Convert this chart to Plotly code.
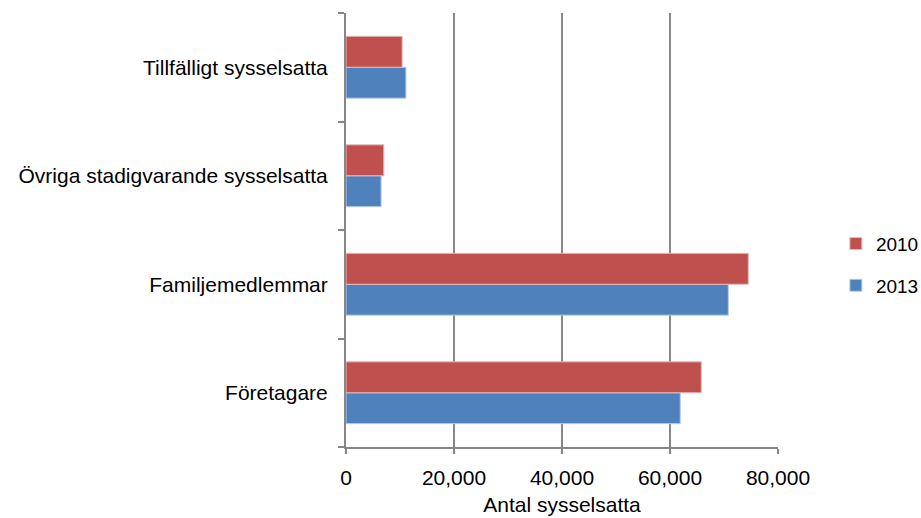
import plotly.graph_objects as go

categories = ["Företagare", "Familjemedlemmar", "Övriga stadigvarande sysselsatta", "Tillfälligt sysselsatta"]
values_2013 = [61900, 70800, 6500, 11100]
values_2010 = [65800, 74500, 7000, 10400]
x_ticks = [0, 20000, 40000, 60000, 80000]
x_tick_labels = ["0", "20,000", "40,000", "60,000", "80,000"]

FONT = "Liberation Sans, Arial, sans-serif"
GRID = "#868686"
FS = 21

fig = go.Figure()
fig.add_trace(go.Bar(
    y=categories, x=values_2013, name="2013", orientation="h",
    marker=dict(color="#4F81BD", line=dict(color="#B9CDE5", width=1)),
    legendgroup="a", legendrank=2,
))
fig.add_trace(go.Bar(
    y=categories, x=values_2010, name="2010", orientation="h",
    marker=dict(color="#C0504D", line=dict(color="#E6B9B8", width=1)),
    legendgroup="b", legendrank=1,
))

fig.update_layout(
    width=921, height=518,
    margin=dict(l=346, r=143, t=13, b=71, autoexpand=False),
    paper_bgcolor="white", plot_bgcolor="white",
    barmode="group", bargap=0.43, bargroupgap=0,
    font=dict(family=FONT, size=FS, color="#000000"),
    legend=dict(
        x=1.134, y=0.42, xanchor="left", yanchor="middle",
        traceorder="grouped", tracegroupgap=14,
        font=dict(size=19), itemwidth=30,
    ),
    xaxis=dict(
        range=[0, 80000], tickvals=x_ticks, ticktext=x_tick_labels,
        showgrid=True, gridcolor=GRID, gridwidth=1.5,
        zeroline=False, showline=True, linecolor=GRID, linewidth=1.5,
        ticks="outside", ticklen=5, tickcolor=GRID, tickwidth=1.5,
        ticklabelstandoff=6,
        title=dict(text="Antal sysselsatta", font=dict(size=FS), standoff=9),
        automargin=False, fixedrange=True,
    ),
    yaxis=dict(
        type="category", showgrid=False, zeroline=False,
        showline=True, linecolor=GRID, linewidth=2,
        ticks="outside", tickson="boundaries", ticklen=6, tickcolor=GRID, tickwidth=1.5,
        ticklabelstandoff=12,
        automargin=False, fixedrange=True,
    ),
)

fig.write_html("out.html", config={"displayModeBar": False},
               post_script="document.body.style.margin='0';")
